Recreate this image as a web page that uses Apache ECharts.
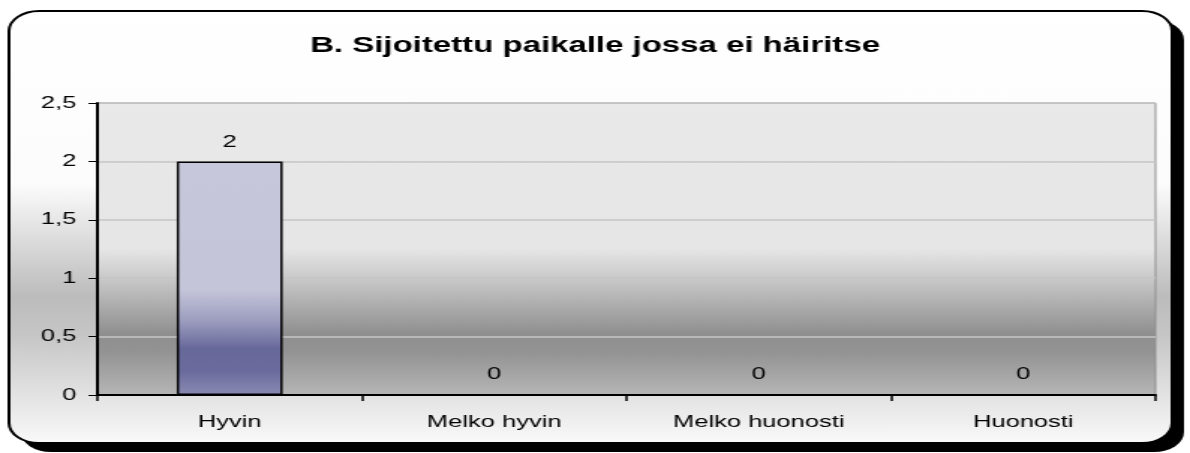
<!DOCTYPE html>
<html>
<head>
<meta charset="utf-8">
<script src="https://cdn.jsdelivr.net/npm/echarts@6/dist/echarts.min.js"></script>
<style>
  html, body { margin: 0; padding: 0; background: #fff; overflow: hidden; }
  /* the reference image is stretched sideways, so the chart is drawn narrow and scaled */
  #main { width: 794px; height: 453px; transform: scaleX(1.49874); transform-origin: 0 0; }
</style>
</head>
<body>
<div id="main"></div>
<script>
var titleText = 'B. Sijoitettu paikalle jossa ei häiritse';
var categories = ['Hyvin', 'Melko hyvin', 'Melko huonosti', 'Huonosti'];
var values = [2, 0, 0, 0];
var yTicks = { min: 0, max: 2.5, interval: 0.5 };

var myChart = echarts.init(document.getElementById('main'));
var font = 'Liberation Sans, Arial, sans-serif';

var option = {
  animation: false,
  title: {
    text: titleText,
    left: 'center',
    top: 30,
    textStyle: { fontFamily: font, fontSize: 22, fontWeight: 'bold', color: '#000' }
  },
  graphic: [
    // shadow of the frame
    {
      type: 'rect', z: -20,
      shape: { x: 14, y: 20, width: 776, height: 432, r: 20 },
      style: { fill: '#000' }
    },
    // frame
    {
      type: 'rect', z: -10,
      shape: { x: 6, y: 11, width: 776, height: 432, r: 20 },
      style: {
        stroke: '#000', lineWidth: 2,
        fill: new echarts.graphic.LinearGradient(0, 0, 0, 1, [
          { offset: 0, color: '#ffffff' },
          { offset: 0.40, color: '#fcfcfc' },
          { offset: 0.66, color: '#bcbcbc' },
          { offset: 0.75, color: '#c6c6c6' },
          { offset: 1, color: '#fafafa' }
        ])
      }
    }
  ],
  grid: {
    left: 65, right: 23, top: 103, bottom: 58,
    show: true,
    borderColor: '#8f8f8f', borderWidth: 1,
    backgroundColor: new echarts.graphic.LinearGradient(0, 0, 0, 1, [
      { offset: 0, color: '#e9e9e9' },
      { offset: 0.50, color: '#e6e6e6' },
      { offset: 0.60, color: '#c9c9c9' },
      { offset: 0.79, color: '#8f8f8f' },
      { offset: 0.85, color: '#939393' },
      { offset: 1, color: '#b6b6b6' }
    ])
  },
  xAxis: {
    type: 'category',
    data: categories,
    axisLine: { lineStyle: { color: '#000', width: 2 } },
    axisTick: { show: true, length: 6, lineStyle: { color: '#000', width: 1.5 } },
    axisLabel: { fontFamily: font, fontSize: 17, color: '#000', margin: 19 },
    splitLine: { show: false }
  },
  yAxis: {
    type: 'value',
    min: yTicks.min, max: yTicks.max, interval: yTicks.interval,
    axisLine: { show: true, lineStyle: { color: '#000', width: 2 } },
    axisTick: { show: true, length: 6, lineStyle: { color: '#000', width: 1 } },
    axisLabel: {
      fontFamily: font, fontSize: 17, color: '#000', margin: 14,
      formatter: function (v) { return String(v).replace('.', ','); }
    },
    splitLine: { show: true, lineStyle: { color: '#c6c6c6', width: 1.5 } }
  },
  series: [{
    type: 'bar',
    data: values,
    barWidth: '40%',
    itemStyle: {
      borderColor: '#000', borderWidth: 1.5,
      color: new echarts.graphic.LinearGradient(0, 0, 0, 1, [
        { offset: 0, color: '#c6c7db' },
        { offset: 0.55, color: '#c4c5d9' },
        { offset: 0.68, color: '#9d9ebf' },
        { offset: 0.80, color: '#68699b' },
        { offset: 0.90, color: '#6b6c9d' },
        { offset: 1, color: '#8a8bb2' }
      ])
    },
    label: {
      show: true, position: 'top', distance: 11,
      fontFamily: font, fontSize: 17, color: '#000'
    }
  }]
};
myChart.setOption(option);
</script>
</body>
</html>
